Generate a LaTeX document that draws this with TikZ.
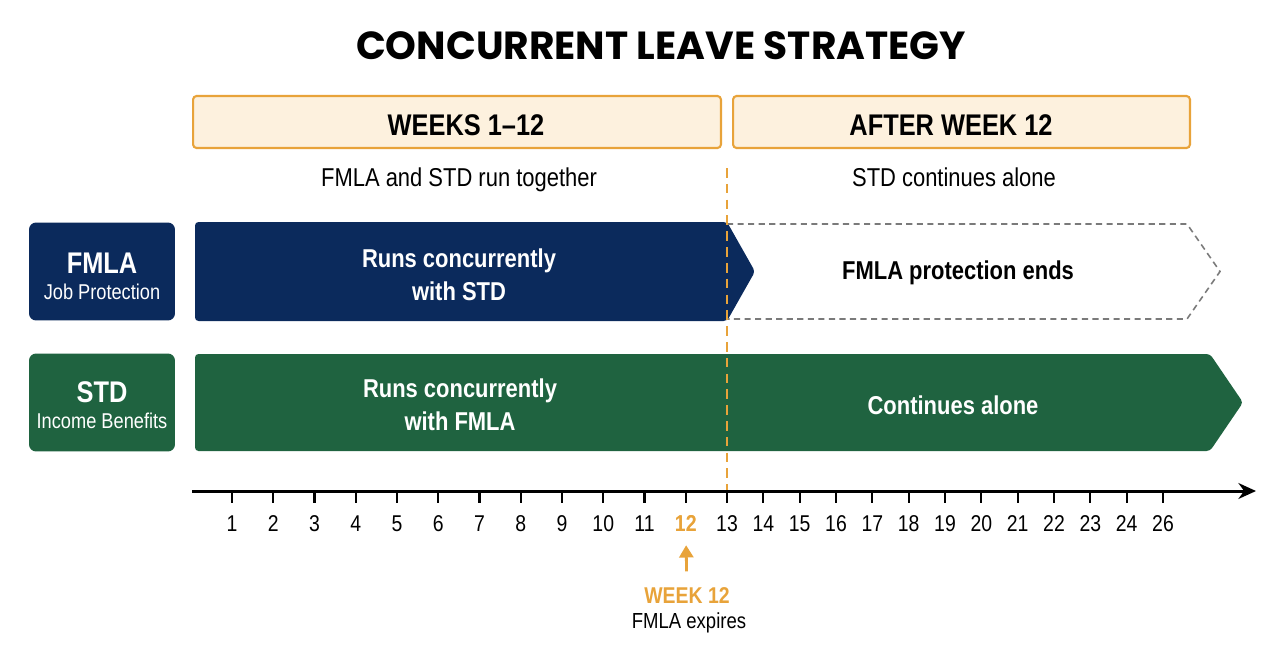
\documentclass[tikz,border=0pt]{standalone}
\usepackage{fontspec}
\setmainfont[FakeStretch=0.85]{Liberation Sans}
\newfontfamily\titlefont{Poppins}
\usetikzlibrary{positioning}
\usetikzlibrary{arrows.meta}

\definecolor{navyA}{HTML}{0B2A5C}
\definecolor{greenA}{HTML}{1F6340}
\definecolor{orangeA}{HTML}{E8A33A}
\definecolor{creamA}{HTML}{FDF1DE}
\definecolor{grayA}{HTML}{7A7A7A}

\begin{document}
\begin{tikzpicture}[
    x=0.02cm, y=-0.02cm,
    font=\fontsize{14.7}{18.7}\selectfont
]
\tikzset{
    hdrbox/.style = {draw=orangeA, line width=1.2pt, fill=creamA, rounded corners=2pt,
                     minimum height=1.04cm},
    hdrtxt/.style = {font=\fontsize{17}{20}\selectfont\bfseries},
    lblbox/.style = {rounded corners=4pt, minimum width=2.92cm, minimum height=1.96cm},
    lbltxt/.style = {align=center, text=white},
    bartxt/.style = {text=white, align=center, font=\fontsize{14.7}{18.7}\selectfont\bfseries},
    subtxt/.style = {font=\fontsize{14.7}{18}\selectfont, text height=1.5ex, text depth=.3ex},
    ticklbl/.style = {font=\fontsize{13}{15}\selectfont},
    axisln/.style = {-{Stealth[length=10pt,width=9pt]}, line width=1.7pt},
    wkline/.style = {orangeA, dash pattern=on 5.5pt off 3.5pt, line width=1.1pt},
    wkarrow/.style = {-{Triangle[length=7pt,width=8pt]}, orangeA, line width=1.6pt},
    fmlaend/.style = {draw=grayA, dash pattern=on 3.5pt off 2.5pt, line width=0.9pt}
}
\useasboundingbox (0,0) rectangle (1280,666);

% title
\node[font=\titlefont\bfseries\fontsize{22.3}{26}\selectfont] (title) at (661,46) {CONCURRENT LEAVE STRATEGY};

% phase headers
\node[hdrbox, minimum width=10.56cm] (hdra) at (457,122) {};
\node[hdrbox, minimum width=9.14cm] (hdrb) at (961.5,122) {};
\node[hdrtxt] (hdrat) at (466,125) {WEEKS 1--12};
\node[hdrtxt] (hdrbt) at (951,125) {AFTER WEEK 12};
\node[subtxt] (suba) at (459,181) {FMLA and STD run together};
\node[subtxt] (subb) at (954,181) {STD continues alone};

% row labels
\node[lblbox, fill=navyA] (fmla) at (102,271.5) {};
\node[lblbox, fill=greenA] (std) at (102,402.5) {};
\node[lbltxt] (fmlat) at (102,276)
    {{\fontsize{17}{20}\selectfont\bfseries FMLA}\\[-4pt]{\fontsize{12.2}{14}\selectfont Job Protection}};
\node[lbltxt] (stdt) at (102,405)
    {{\fontsize{17}{20}\selectfont\bfseries STD}\\[-4pt]{\fontsize{12.2}{14}\selectfont Income Benefits}};

% bars
\fill[navyA, rounded corners=2pt] (195,222) -- (727,222) -- (755,271.5) -- (727,321) -- (195,321) -- cycle;
\draw[fmlaend] (727,224) -- (1187,224) -- (1220,271.5) -- (1187,319) -- (727,319);
\fill[greenA, rounded corners=2pt] (195,354) -- (1210,354) -- (1243,402.5) -- (1210,451) -- (195,451) -- cycle;

\node[bartxt] (fmlaa) at (459,275) {Runs concurrently\\with STD};
\node[font=\fontsize{14.7}{18}\selectfont\bfseries] (fmlab) at (958,273) {FMLA protection ends};
\node[bartxt] (stda) at (460,405) {Runs concurrently\\with FMLA};
\node[bartxt] (stdb) at (953,405) {Continues alone};

% week axis
\coordinate (axs) at (192,491);
\coordinate (axe) at (1256,491);
\coordinate (wktop) at (727,168);
\coordinate (wkbot) at (727,491);
\draw[wkline] (wktop) -- (wkbot);
\draw[axisln] (axs) -- (axe);
\foreach \x/\n/\c in {232/1/black, 273.25/2/black, 314.5/3/black, 355.75/4/black,
    397/5/black, 438.25/6/black, 479.5/7/black, 520.75/8/black, 562/9/black,
    603.25/10/black, 644.5/11/black, 685.75/12/orangeA, 727/13/black,
    763.3/14/black, 799.7/15/black, 836/16/black, 872.3/17/black, 908.7/18/black,
    945/19/black, 981.3/20/black, 1017.7/21/black, 1054/22/black, 1090.3/23/black,
    1126.7/24/black, 1163/26/black}
{
    \draw[line width=1.3pt] (\x,491) -- (\x,503);
    \node[ticklbl, text=\c] (t\n) at (\x,524) {\n};
}
\node[ticklbl, text=orangeA, font=\fontsize{13}{15}\selectfont\bfseries] at (t12) {12};

% week 12 note
\node[font=\fontsize{13}{15}\selectfont\bfseries, text=orangeA] (wk12) at (687,596) {WEEK 12};
\node[font=\fontsize{12.4}{15}\selectfont] (fexp) at (689,623) {FMLA expires};
\draw[wkarrow, shorten <=6pt, shorten >=4pt] (wk12) -- (t12);
\end{tikzpicture}
\end{document}
